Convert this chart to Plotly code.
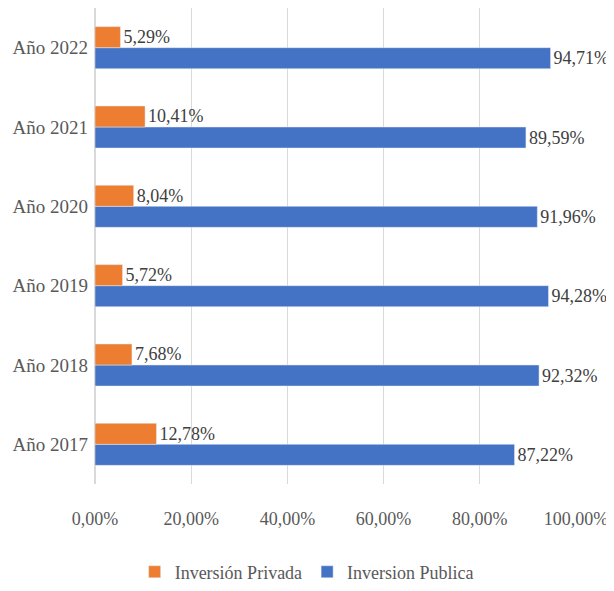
import plotly.graph_objects as go

categories = ["Año 2017", "Año 2018", "Año 2019", "Año 2020", "Año 2021", "Año 2022"]
privada = [12.78, 7.68, 5.72, 8.04, 10.41, 5.29]
publica = [87.22, 92.32, 94.28, 91.96, 89.59, 94.71]
tick_vals = [0, 20, 40, 60, 80, 100]
tick_text = ["0,00%", "20,00%", "40,00%", "60,00%", "80,00%", "100,00%"]

def fmt(v):
    return f"{v:.2f}%".replace(".", ",")

FONT = "Liberation Serif"

fig = go.Figure()
fig.add_trace(go.Bar(
    y=categories, x=publica, orientation="h", name="Inversion Publica",
    marker=dict(color="#4472C4"),
    text=[fmt(v) for v in publica], textposition="outside",
    textfont=dict(family=FONT, size=18, color="#404040"), cliponaxis=False,
))
fig.add_trace(go.Bar(
    y=categories, x=privada, orientation="h", name="Inversión Privada",
    marker=dict(color="#ED7D31"),
    text=[fmt(v) for v in privada], textposition="outside",
    textfont=dict(family=FONT, size=18, color="#404040"), cliponaxis=False,
))

fig.update_layout(
    width=606, height=583,
    margin=dict(l=87, r=38, t=0, b=103),
    barmode="group", bargap=0.47, bargroupgap=0,
    plot_bgcolor="white", paper_bgcolor="white",
    font=dict(family=FONT, size=18, color="#595959"),
    legend=dict(orientation="h", x=0.44, xanchor="center", y=-0.185, yanchor="middle",
                traceorder="reversed", itemwidth=30, tracegroupgap=0,
                font=dict(family=FONT, size=18, color="#595959")),
)
fig.update_xaxes(range=[0, 100], tickvals=tick_vals, ticktext=tick_text,
                 showgrid=True, gridcolor="#D9D9D9", gridwidth=1, automargin=False,
                 zeroline=True, zerolinecolor="#D9D9D9", ticklabelstandoff=22)
fig.update_yaxes(categoryorder="array", categoryarray=categories, automargin=False,
                 showgrid=False, ticklabelstandoff=6, tickfont=dict(size=19))

fig.write_html("out.html")
